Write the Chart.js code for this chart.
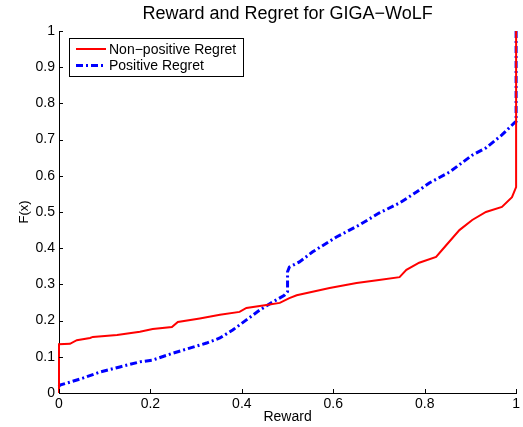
<!DOCTYPE html>
<html>
<head>
<meta charset="utf-8">
<script src="https://cdn.jsdelivr.net/npm/chart.js@4"></script>
<style>
  html, body { margin: 0; padding: 0; background: #fff; }
  canvas { display: block; }
</style>
</head>
<body>
<canvas id="chart" width="523" height="427"></canvas>
<script>
const nonPosX = [0, 0, 0.024, 0.039, 0.068, 0.074, 0.127, 0.177, 0.205, 0.247, 0.26, 0.308, 0.352, 0.395, 0.41, 0.454, 0.483, 0.504, 0.52, 0.592, 0.651, 0.70, 0.745, 0.76, 0.788, 0.825, 0.838, 0.876, 0.904, 0.934, 0.969, 0.991, 1, 1];
const nonPosY = [0, 0.135, 0.136, 0.146, 0.152, 0.155, 0.16, 0.169, 0.177, 0.182, 0.196, 0.206, 0.216, 0.224, 0.235, 0.243, 0.249, 0.262, 0.27, 0.29, 0.304, 0.312, 0.32, 0.34, 0.36, 0.376, 0.395, 0.45, 0.478, 0.5, 0.514, 0.541, 0.569, 1];

const posX = [0, 0.002, 0.024, 0.052, 0.09, 0.133, 0.177, 0.205, 0.249, 0.286, 0.323, 0.352, 0.38, 0.41, 0.439, 0.467, 0.493, 0.5, 0.5, 0.504, 0.526, 0.555, 0.607, 0.657, 0.70, 0.745, 0.782, 0.81, 0.854, 0.904, 0.934, 0.969, 0.996, 1, 1];
const posY = [0.018, 0.022, 0.03, 0.041, 0.058, 0.072, 0.086, 0.091, 0.11, 0.124, 0.138, 0.152, 0.174, 0.202, 0.229, 0.251, 0.27, 0.28, 0.335, 0.348, 0.362, 0.39, 0.431, 0.464, 0.497, 0.525, 0.555, 0.58, 0.61, 0.657, 0.677, 0.713, 0.746, 0.75, 1];

const xTicks = [0, 0.2, 0.4, 0.6, 0.8, 1];
const yTicks = [0, 0.1, 0.2, 0.3, 0.4, 0.5, 0.6, 0.7, 0.8, 0.9, 1];
const seriesNames = ['Non\u2212positive Regret', 'Positive Regret'];

const FONT = '"Liberation Sans", Arial, sans-serif';
const toPts = (xs, ys) => xs.map((x, i) => ({ x: x, y: ys[i] }));

// inward ticks, title and the boxed legend, matlab style
const matlabBits = {
  id: 'matlabBits',
  afterDraw(chart) {
    const { ctx, chartArea, scales } = chart;
    const xs = scales.x, ys = scales.y;
    ctx.save();
    ctx.strokeStyle = '#000';
    ctx.lineWidth = 1;
    ctx.beginPath();
    xTicks.forEach(v => {
      const px = Math.round(xs.getPixelForValue(v)) + 0.5;
      ctx.moveTo(px, chartArea.bottom);
      ctx.lineTo(px, chartArea.bottom - 4);
    });
    yTicks.forEach(v => {
      const py = Math.round(ys.getPixelForValue(v)) + 0.5;
      ctx.moveTo(chartArea.left, py);
      ctx.lineTo(chartArea.left + 4, py);
    });
    ctx.stroke();

    // title
    ctx.fillStyle = '#000';
    ctx.font = '18px ' + FONT;
    ctx.textAlign = 'center';
    ctx.textBaseline = 'middle';
    ctx.fillText('Reward and Regret for GIGA\u2212WoLF', (chartArea.left + chartArea.right) / 2, 14);

    // legend box
    const bx = 69.5, by = 38.5, bw = 174, bh = 38;
    ctx.fillStyle = '#fff';
    ctx.fillRect(bx, by, bw, bh);
    ctx.strokeStyle = '#000';
    ctx.strokeRect(bx, by, bw, bh);
    chart.data.datasets.forEach((ds, i) => {
      const ly = 49 + i * 16.5;
      ctx.strokeStyle = ds.borderColor;
      ctx.lineWidth = ds.borderWidth;
      ctx.setLineDash(ds.borderDash || []);
      ctx.beginPath();
      ctx.moveTo(76, ly);
      ctx.lineTo(106, ly);
      ctx.stroke();
      ctx.setLineDash([]);
      ctx.fillStyle = '#000';
      ctx.font = '14px ' + FONT;
      ctx.textAlign = 'left';
      ctx.fillText(ds.label, 109, ly + 1);
    });
    ctx.restore();
  }
};

new Chart(document.getElementById('chart'), {
  type: 'line',
  data: {
    datasets: [
      {
        label: seriesNames[0],
        data: toPts(nonPosX, nonPosY),
        borderColor: '#ff0000',
        borderWidth: 2,
        pointRadius: 0,
        tension: 0,
        fill: false
      },
      {
        label: seriesNames[1],
        data: toPts(posX, posY),
        borderColor: '#0000ff',
        borderWidth: 3,
        borderDash: [7, 3, 2, 3],
        pointRadius: 0,
        tension: 0,
        fill: false
      }
    ]
  },
  options: {
    responsive: false,
    animation: false,
    clip: 4,
    layout: { padding: { left: 0, top: 31, right: 6, bottom: 0 } },
    plugins: {
      legend: { display: false },
      title: { display: false },
      tooltip: { enabled: false }
    },
    scales: {
      x: {
        type: 'linear',
        min: 0,
        max: 1,
        afterFit: s => { s.height = 34; },
        afterBuildTicks: s => { s.ticks = xTicks.map(v => ({ value: v })); },
        grid: { display: false, drawTicks: false },
        border: { display: true, color: '#000', width: 1 },
        ticks: {
          color: '#000',
          font: { family: FONT, size: 14 },
          padding: 3,
          maxRotation: 0,
          callback: v => String(v)
        },
        title: {
          display: true,
          text: 'Reward',
          color: '#000',
          font: { family: FONT, size: 14 },
          padding: { top: 0, bottom: 1 }
        }
      },
      y: {
        type: 'linear',
        min: 0,
        max: 1,
        afterFit: s => { s.width = 59; },
        afterBuildTicks: s => { s.ticks = yTicks.map(v => ({ value: v })); },
        grid: { display: false, drawTicks: false },
        border: { display: true, color: '#000', width: 1 },
        ticks: {
          color: '#000',
          font: { family: FONT, size: 14 },
          padding: 4,
          callback: v => String(v)
        },
        title: {
          display: true,
          text: 'F(x)',
          color: '#000',
          font: { family: FONT, size: 13 },
          padding: { top: 17, bottom: 0 }
        }
      }
    }
  },
  plugins: [matlabBits]
});
</script>
</body>
</html>
